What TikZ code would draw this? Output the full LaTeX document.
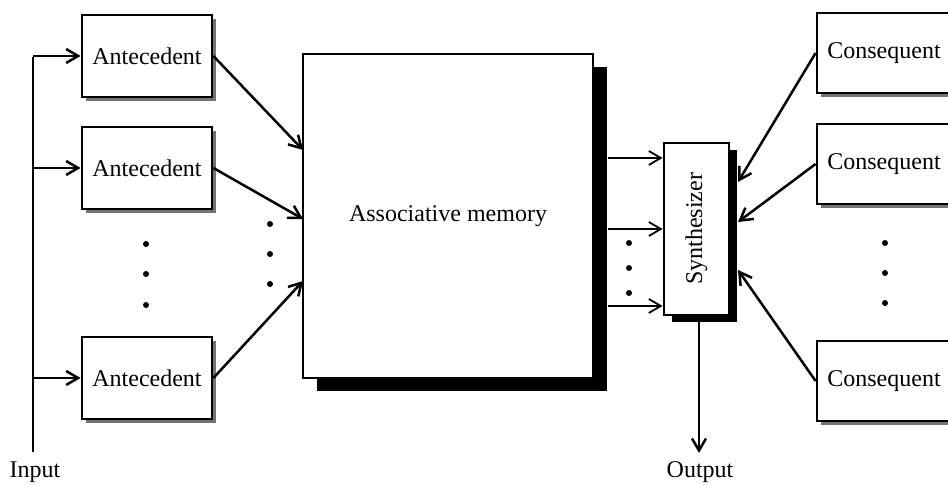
\documentclass[tikz,border=0pt]{standalone}
\usepackage{fontspec}
\setmainfont{Liberation Serif}
\usetikzlibrary{arrows.meta,shadows}

\begin{document}
\begin{tikzpicture}[x=0.5pt,y=-0.5pt,>={Straight Barb[length=6pt,width=7pt]},
  every node/.style={font=\fontsize{12}{14}\selectfont},
  block/.style={draw,line width=1.4pt,fill=white,inner sep=0pt},
  rule/.style={block,minimum width=65pt,minimum height=41pt,
    drop shadow={shadow xshift=2pt,shadow yshift=-2pt,fill=black!55,opacity=1}},
  wire/.style={line width=1.25pt},
  bus/.style={line width=0.9pt}]
  \useasboundingbox (0,0) rectangle (948,485);

  % rule bases
  \node[rule] (ant1) at (147,56) {Antecedent};
  \node[rule] (ant2) at (147,168) {Antecedent};
  \node[rule] (ant3) at (147,378) {Antecedent};
  \node[rule,minimum width=67pt,minimum height=40pt] (con1) at (884,53) {Consequent};
  \node[rule,minimum width=67pt,minimum height=40pt] (con2) at (884,164) {Consequent};
  \node[rule,minimum width=67pt,minimum height=40pt] (con3) at (884,381) {Consequent};

  % memory and synthesizer
  \node[block,minimum width=145pt,minimum height=162pt,
    drop shadow={shadow xshift=7pt,shadow yshift=-6.5pt,fill=black,opacity=1}]
    (mem) at (448,216) {Associative memory};
  \node[block,minimum width=32.5pt,minimum height=86pt,
    drop shadow={shadow xshift=4pt,shadow yshift=-3.5pt,fill=black,opacity=1}]
    (syn) at (696.5,229) {\rotatebox{90}{Synthesizer}};

  % input line
  \coordinate (in) at (33,452);
  \node (inlbl) at (35,472) {Input};
  \draw[bus] (33,57) -- (in);
  \foreach \a in {ant1,ant2,ant3}
    \draw[wire,->] (in |- \a) -- (\a.west);

  % antecedents into memory
  \coordinate (m1) at (303,150);
  \coordinate (m2) at (303,219);
  \coordinate (m3) at (303,281);
  \draw[wire,->] (ant1.east) -- (m1);
  \draw[wire,->] (ant2.east) -- (m2);
  \draw[wire,->] (ant3.east) -- (m3);

  % memory outputs
  \coordinate (r1) at (608,158);
  \coordinate (r2) at (608,229);
  \coordinate (r3) at (608,306);
  \foreach \r in {r1,r2,r3}
    \draw[bus,->] (\r) -- (\r -| syn.west);

  % consequents into synthesizer
  \coordinate (s1) at (738,182);
  \coordinate (s2) at (738,222);
  \coordinate (s3) at (738,270);
  \draw[wire,->] (con1.west) -- (s1);
  \draw[wire,->] (con2.west) -- (s2);
  \draw[wire,->] (con3.west) -- (s3);

  % output
  \coordinate (out) at (699,453);
  \node (outlbl) at (700,472) {Output};
  \draw[wire,->] (syn.south -| out) -- (out);

  % ellipses
  \foreach \y in {244,274,305} \fill (146,\y) circle (1.5pt);
  \foreach \y in {224,254,284} \fill (270,\y) circle (1.5pt);
  \foreach \y in {243,268,293} \fill (629,\y) circle (1.5pt);
  \foreach \y in {243,273,303} \fill (885,\y) circle (1.5pt);
\end{tikzpicture}
\end{document}
